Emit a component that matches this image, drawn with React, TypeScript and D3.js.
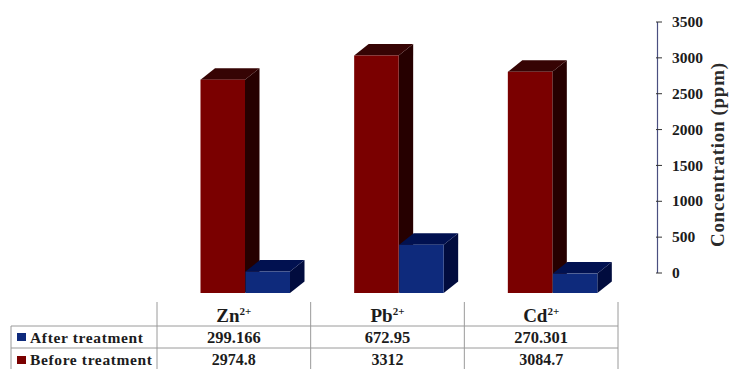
import React from "react";
import * as d3 from "d3";

const categories = ["Zn", "Pb", "Cd"];
const charges = ["2+", "2+", "2+"];
const afterTreatment = [299.166, 672.95, 270.301];
const beforeTreatment = [2974.8, 3312, 3084.7];
const afterLabels = ["299.166", "672.95", "270.301"];
const beforeLabels = ["2974.8", "3312", "3084.7"];
const axisTicks = [0, 500, 1000, 1500, 2000, 2500, 3000, 3500];

const W = 729;
const H = 369;
const FONT = "'Liberation Serif', serif";
const TEXT = "#1c1c1c";
const GRID = "#9a9a9a";

const x = d3.scaleBand<string>().domain(categories).range([157, 618]);
const y = d3.scaleLinear().domain([0, 3500]).range([293, 42]);
const axisY = d3.scaleLinear().domain([0, 3500]).range([273, 22]);

const barW = 44.5;
const depthX = 14.5;
const depthY = 11.5;
const groupInset = 43.5;

const RED = { front: "#7a0000", side: "#260000", top: "#360404" };
const BLUE = { front: "#0e2a7c", side: "#010c3e", top: "#011150" };

type Palette = typeof RED;

function Bar({ left, value, c }: { left: number; value: number; c: Palette }) {
  const top = y(value);
  const base = y(0);
  const r = left + barW;
  const pts = (p: [number, number][]) => p.map((q) => q.join(",")).join(" ");
  return (
    <g>
      <polygon
        points={pts([[r, top], [r + depthX, top - depthY], [r + depthX, base - depthY], [r, base]])}
        fill={c.side}
      />
      <polygon
        points={pts([[left, top], [left + depthX, top - depthY], [r + depthX, top - depthY], [r, top]])}
        fill={c.top}
      />
      <rect x={left} y={top} width={barW} height={base - top} fill={c.front} />
    </g>
  );
}

export default function App() {
  const rowTop = 326;
  const rowMid = 348;
  const bottom = H;
  const colEdges = [157, ...categories.map((k) => (x(k) as number) + x.bandwidth())];
  return (
    <svg
      width={W}
      height={H}
      viewBox={`0 0 ${W} ${H}`}
      style={{ position: "absolute", left: 0, top: 0, background: "#fff" }}
      fontFamily={FONT}
    >
      {categories.map((k, i) => {
        const left = (x(k) as number) + groupInset;
        return (
          <g key={k}>
            <Bar left={left} value={beforeTreatment[i]} c={RED} />
            <Bar left={left + barW + 0.5} value={afterTreatment[i]} c={BLUE} />
          </g>
        );
      })}

      {/* value axis on the right */}
      <line x1={657.5} x2={657.5} y1={axisY(3500)} y2={axisY(0)} stroke="#4a4f80" strokeWidth={1.2} />
      {axisTicks.map((t) => (
        <g key={t}>
          <line x1={656} x2={662} y1={axisY(t)} y2={axisY(t)} stroke="#333" strokeWidth={1} />
          <text
            x={672}
            y={axisY(t)}
            dy="0.33em"
            fontSize={15.5}
            fontWeight="bold"
            fill={TEXT}
          >
            {t}
          </text>
        </g>
      ))}
      <text
        transform="translate(724,155) rotate(-90)"
        textAnchor="middle"
        fontSize={19}
        fontWeight="bold"
        fill="#2a2a2a"
        textLength={184}
        lengthAdjust="spacing"
      >
        Concentration (ppm)
      </text>

      {/* data table below the bars */}
      <g stroke={GRID} strokeWidth={1}>
        <line x1={11} x2={618} y1={rowTop} y2={rowTop} />
        <line x1={11} x2={618} y1={rowMid} y2={rowMid} />
        <line x1={11} x2={11} y1={rowTop} y2={bottom} />
        {colEdges.map((e) => (
          <line key={e} x1={e} x2={e} y1={302} y2={bottom} />
        ))}
      </g>
      {categories.map((k, i) => {
        const cx = (x(k) as number) + x.bandwidth() / 2;
        return (
          <g key={k} textAnchor="middle" fontWeight="bold" fill={TEXT}>
            <text x={cx} y={322} fontSize={19}>
              {k}
              <tspan fontSize={11} dy={-7}>
                {charges[i]}
              </tspan>
            </text>
            <text x={cx} y={343} fontSize={16.5}>
              {afterLabels[i]}
            </text>
            <text x={cx} y={365} fontSize={16}>
              {beforeLabels[i]}
            </text>
          </g>
        );
      })}

      {/* legend keys sit in the table's row headers */}
      <rect x={17} y={333} width={9} height={8} fill={BLUE.front} />
      <rect x={17} y={356} width={9} height={8} fill={RED.front} />
      <g fontSize={15.5} fontWeight="bold" fill={TEXT}>
        <text x={30} y={343} textLength={113} lengthAdjust="spacing">
          After treatment
        </text>
        <text x={30} y={365} textLength={122} lengthAdjust="spacing">
          Before treatment
        </text>
      </g>
    </svg>
  );
}
